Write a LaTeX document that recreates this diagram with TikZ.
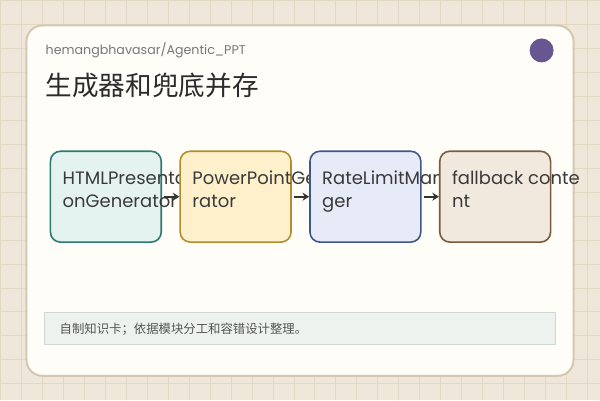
\documentclass[tikz,border=0pt]{standalone}
\usepackage{fontspec}
\setmainfont{Poppins}
\newfontfamily\cjkfont{Noto Sans CJK SC}
\usetikzlibrary{arrows.meta}
\definecolor{bgc}{HTML}{EFE8DA}
\definecolor{gridc}{HTML}{E2D8C4}
\definecolor{cardbg}{HTML}{FFFDF8}
\definecolor{cardline}{HTML}{D5C7B2}
\definecolor{repoc}{HTML}{777777}
\definecolor{titlec}{HTML}{2B2B2B}
\definecolor{inkc}{HTML}{3A3A3A}
\definecolor{dotc}{HTML}{67568F}
\definecolor{arrowc}{HTML}{333333}
\definecolor{footbg}{HTML}{EDF2EF}
\definecolor{footline}{HTML}{D0D8D3}
\definecolor{footc}{HTML}{555555}
\definecolor{tealfill}{HTML}{E4F3F0}
\definecolor{tealline}{HTML}{2D7A72}
\definecolor{goldfill}{HTML}{FDF0CB}
\definecolor{goldline}{HTML}{B28C2E}
\definecolor{bluefill}{HTML}{E7EBF8}
\definecolor{blueline}{HTML}{40578C}
\definecolor{brownfill}{HTML}{F1E9DE}
\definecolor{brownline}{HTML}{7A5B3F}
\begin{document}
\begin{tikzpicture}[x=0.75pt,y=-0.75pt,
    gridline/.style={draw=gridc,line width=0.75pt},
    card/.style={draw=cardline,line width=1.5pt,fill=cardbg,rounded corners=12pt},
    stage/.style={draw,line width=1.2pt,rounded corners=7.5pt,
                  minimum width=83.25pt,minimum height=68.25pt,inner sep=0pt},
    stagetext/.style={anchor=base west,align=left,inner sep=0pt,
                  font=\fontsize{13.5}{17.25}\selectfont,text=inkc},
    flow/.style={-{Stealth[length=5pt,width=6pt]},line width=1.5pt,draw=arrowc,shorten <=1.5pt}
  ]
  \fill[bgc] (0,0) rectangle (600,400);
  \foreach \x in {0,21,...,600} \draw[gridline] (\x,0) -- (\x,400);
  \foreach \y in {0,24,...,400} \draw[gridline] (0,\y) -- (600,\y);
  \draw[card] (26,25) rectangle (574,376);

  \node[anchor=base west,inner sep=0pt,text=repoc,font=\fontsize{9.5}{11}\selectfont] (repo) at (45,54) {hemangbhavasar/Agentic\_PPT};
  \node[anchor=base west,inner sep=0pt,text=titlec,font=\cjkfont\fontsize{20}{24}\selectfont] (title) at (45,95) {生成器和兜底并存};
  \node[circle,fill=dotc,minimum size=18pt,inner sep=0pt] (dot) at (542,50) {};

  \node[stage,draw=tealline,fill=tealfill] (html) at (105.5,196.5) {};
  \node[stagetext] (htmltext) at (62,207) {HTMLPresentati\\onGenerator};
  \node[stage,draw=goldline,fill=goldfill] (pptx) at (235.5,196.5) {};
  \node[stagetext] (pptxtext) at (192,207) {PowerPointGene\\rator};
  \node[stage,draw=blueline,fill=bluefill] (rate) at (365.5,196.5) {};
  \node[stagetext] (ratetext) at (322,207) {RateLimitMana\\ger};
  \node[stage,draw=brownline,fill=brownfill] (fallback) at (495.5,196.5) {};
  \node[stagetext] (fallbacktext) at (452,207) {fallback conte\\nt};

  \draw[flow] (html) -- (pptx);
  \draw[flow] (pptx) -- (rate);
  \draw[flow] (rate) -- (fallback);

  \draw[fill=footbg,draw=footline,line width=0.75pt] (44,313) rectangle (556,345);
  \node[anchor=west,inner sep=0pt,text=footc,font=\cjkfont\fontsize{9.3}{11}\selectfont] (note) at (59,329) {自制知识卡；依据模块分工和容错设计整理。};
\end{tikzpicture}
\end{document}
